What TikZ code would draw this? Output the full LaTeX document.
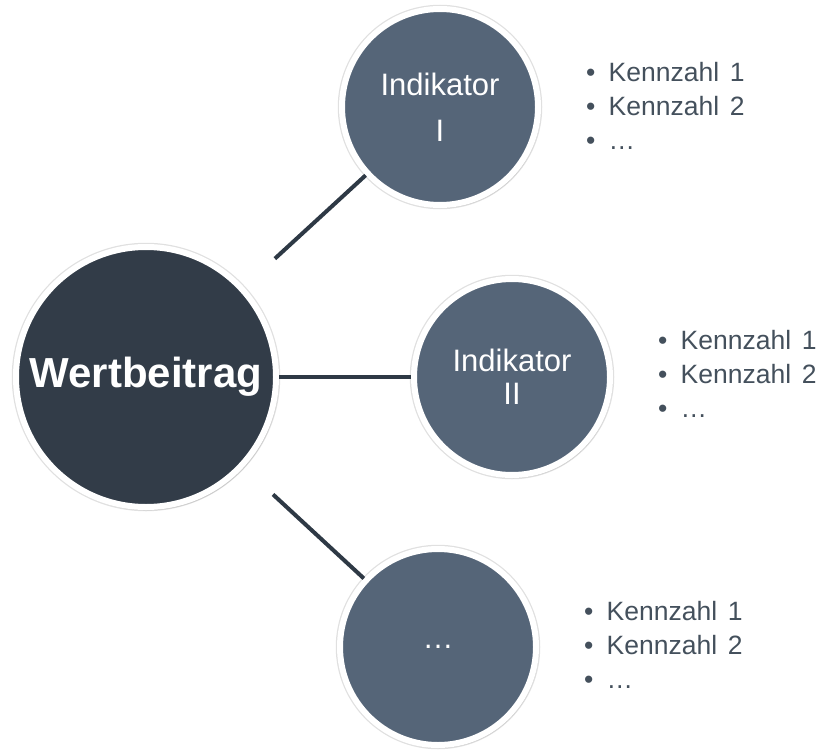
\documentclass[tikz,border=0pt]{standalone}
\usepackage{fontspec}
\setmainfont{Liberation Sans}
\usetikzlibrary{shadows}

\definecolor{hubfill}{RGB}{50,60,72}
\definecolor{indfill}{RGB}{85,101,120}
\definecolor{linecol}{RGB}{46,57,69}
\definecolor{listcol}{RGB}{68,80,92}

\tikzset{
  ring/.style={preaction={draw=black!12, line width=8.5pt},
    drop shadow={opacity=0.25, shadow scale=1.01, shadow xshift=1.5pt, shadow yshift=-2pt}},
  hub/.style={circle, fill=hubfill, draw=white, line width=6pt, minimum size=260pt,
    text=white, font=\fontsize{42}{46}\selectfont\bfseries, ring},
  indikator/.style={circle, fill=indfill, draw=white, line width=6pt, minimum size=196pt,
    text=white, align=center, inner sep=0pt, font=\fontsize{31}{33}\selectfont, ring},
  kennzahlen/.style={anchor=west, align=left, text=listcol, inner sep=0pt,
    font=\fontsize{26.5}{34}\selectfont},
  verbindung/.style={draw=linecol, line width=4pt}
}

\newcommand{\kliste}{\textbullet\hspace{0.5em}Kennzahl\hspace{0.4em}1\\ \textbullet\hspace{0.5em}Kennzahl\hspace{0.4em}2\\ \textbullet\hspace{0.5em}…}

\begin{document}
\begin{tikzpicture}[x=1pt, y=-1pt]
        \useasboundingbox (0,0) rectangle (821,749);

        % Zentrum
        \node[hub] (Wertbeitrag) at (146, 377) {Wertbeitrag};

        % Indikatoren
        \node[indikator] (IndI) at (440, 107) {Indikator\\[13pt]I};
        \node[indikator] (IndII) at (512, 377) {Indikator\\II};
        \node[indikator] (IndN) at (438, 647) {…};

        % Verbindungen
        \draw[verbindung, shorten <=42pt] (Wertbeitrag) -- (IndI);
        \draw[verbindung] (Wertbeitrag) -- (IndII);
        \draw[verbindung, shorten <=40pt] (Wertbeitrag) -- (IndN);

        % Kennzahlen
        \node[kennzahlen] (KzI) at (586, 106) {\kliste};
        \node[kennzahlen] (KzII) at (658, 374) {\kliste};
        \node[kennzahlen] (KzN) at (584, 645) {\kliste};
\end{tikzpicture}
\end{document}
